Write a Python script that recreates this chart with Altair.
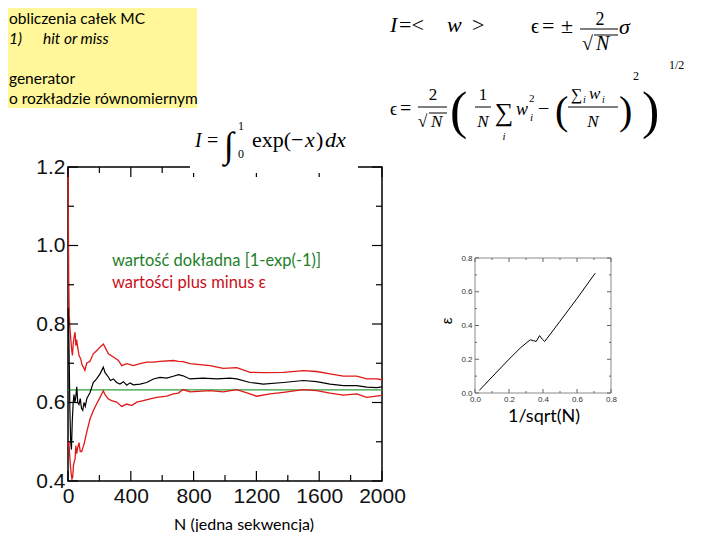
import altair as alt
import pandas as pd

# ---------------- data ----------------
black_N = [1, 4, 8, 12, 17, 22, 27, 33, 38, 44, 50, 56, 62, 70, 78, 86, 94, 102, 110, 120,
           140, 161, 182, 204, 225, 236, 257, 270, 289, 310, 331, 353, 374, 395, 416, 459, 501, 544, 586, 629,
           671, 703, 733, 777, 861, 947, 1032, 1075, 1159, 1244, 1372, 1499, 1584, 1669, 1754, 1839, 1903, 1966, 2000]
black_I = [0.84, 0.80, 0.70, 0.58, 0.50, 0.48, 0.55, 0.60, 0.62, 0.60, 0.615, 0.64, 0.60, 0.595, 0.61, 0.585, 0.58, 0.60, 0.59, 0.61,
           0.625, 0.651, 0.66, 0.673, 0.69, 0.676, 0.665, 0.656, 0.66, 0.651, 0.647, 0.653, 0.644, 0.65, 0.645, 0.647, 0.651, 0.66, 0.664, 0.662,
           0.667, 0.671, 0.668, 0.66, 0.662, 0.66, 0.662, 0.66, 0.651, 0.647, 0.651, 0.656, 0.653, 0.647, 0.643, 0.643, 0.639, 0.638, 0.64]

upper_N = [1, 2, 3, 5, 8, 12, 16, 22, 28, 34, 40, 45, 50, 55, 62, 70, 81, 90, 98, 108,
           119, 140, 161, 182, 204, 225, 236, 257, 289, 321, 342, 374, 416, 459, 501, 544, 586, 671, 703, 733,
           777, 904, 989, 1075, 1159, 1244, 1372, 1499, 1584, 1669, 1754, 1839, 1903, 1966, 2000]
upper_v = [1.19, 1.10, 1.00, 0.90, 0.82, 0.79, 0.77, 0.74, 0.72, 0.753, 0.77, 0.779, 0.745, 0.76, 0.74, 0.72, 0.711, 0.695, 0.69, 0.682,
           0.70, 0.705, 0.724, 0.732, 0.741, 0.749, 0.741, 0.724, 0.716, 0.707, 0.694, 0.699, 0.694, 0.699, 0.703, 0.703, 0.705, 0.707, 0.705, 0.704,
           0.699, 0.694, 0.687, 0.689, 0.677, 0.676, 0.677, 0.681, 0.679, 0.673, 0.667, 0.667, 0.66, 0.66, 0.658]

lower_N = [1, 3, 6, 10, 15, 20, 25, 30, 35, 40, 45, 50, 55, 62, 70, 78, 87, 95, 102, 119,
           140, 161, 182, 204, 225, 236, 257, 278, 310, 342, 374, 406, 438, 480, 523, 565, 629, 671, 703, 733,
           777, 904, 989, 1075, 1159, 1202, 1287, 1372, 1499, 1584, 1669, 1754, 1839, 1903, 2000]
lower_v = [0.49, 0.50, 0.50, 0.47, 0.44, 0.42, 0.405, 0.41, 0.44, 0.45, 0.456, 0.49, 0.47, 0.485, 0.498, 0.475, 0.475, 0.485, 0.494, 0.524,
           0.558, 0.579, 0.596, 0.613, 0.630, 0.62, 0.609, 0.605, 0.601, 0.590, 0.596, 0.592, 0.601, 0.605, 0.609, 0.613, 0.616, 0.622, 0.624, 0.633,
           0.627, 0.630, 0.627, 0.633, 0.622, 0.616, 0.622, 0.626, 0.633, 0.630, 0.624, 0.619, 0.622, 0.613, 0.618]

exact_N = [0, 2000]
exact_v = [0.632, 0.632]

x_ticks_major = [0, 400, 800, 1200, 1600, 2000]
x_ticks_minor = [200, 600, 1000, 1400, 1800]
y_ticks_major = [0.4, 0.6, 0.8, 1.0, 1.2]
y_ticks_minor = [0.5, 0.7, 0.9, 1.1]

inset_s = [0.025, 0.10, 0.20, 0.27, 0.30, 0.325, 0.345, 0.36, 0.38, 0.395, 0.41, 0.50, 0.60, 0.707]
inset_eps = [0.015, 0.095, 0.20, 0.27, 0.295, 0.315, 0.31, 0.305, 0.34, 0.32, 0.305, 0.425, 0.56, 0.71]
inset_major = [0.0, 0.2, 0.4, 0.6, 0.8]
inset_minor = [0.1, 0.3, 0.5, 0.7]

# ---------------- layout ----------------
OX, OY = 68, 167          # page position of the main plot's top-left corner
W, H = 314, 314
SANS = "Lato"
AXF = "Liberation Sans"
MATH = "Liberation Serif, DejaVu Serif"
RED = "#e01818"

SC_X = alt.Scale(domain=[0, 2000], nice=False, zero=False)
SC_Y = alt.Scale(domain=[0.4, 1.2], nice=False, zero=False)
AX_X = alt.Axis(values=x_ticks_major, format="d", ticks=False, domain=False, grid=False, title=None,
                labelFont=AXF, labelFontSize=21, labelColor="#111", labelPadding=4,
                labelFlush=False, labelOverlap=False)
AX_Y = alt.Axis(values=y_ticks_major, format=".1f", ticks=False, domain=False, grid=False, title=None,
                labelFont=AXF, labelFontSize=21, labelColor="#111", labelPadding=3,
                labelFlush=False, labelOverlap=False)


def X(f):
    return alt.X(f, scale=SC_X, axis=AX_X)


def Y(f):
    return alt.Y(f, scale=SC_Y, axis=AX_Y)


def series(n, v, color, w):
    df = pd.DataFrame({"N": n, "v": v})
    return alt.Chart(df).mark_line(color=color, strokeWidth=w).encode(x=X("N:Q"), y=Y("v:Q"))


main_layers = [
    series(exact_N, exact_v, "#2f9e3a", 1.3),
    series(upper_N, upper_v, RED, 1.3),
    series(lower_N, lower_v, RED, 1.3),
    series(black_N, black_I, "black", 1.2),
]

for vals, ln in ((x_ticks_major, 10), (x_ticks_minor, 6)):
    d = pd.DataFrame({"N": vals})
    main_layers.append(alt.Chart(d).mark_rule(color="black", strokeWidth=1.2).encode(
        x=X("N:Q"), y=alt.value(H), y2=alt.value(H - ln)))
    main_layers.append(alt.Chart(d).mark_rule(color="black", strokeWidth=1.2).encode(
        x=X("N:Q"), y=alt.value(0), y2=alt.value(ln)))
for vals, ln in ((y_ticks_major, 10), (y_ticks_minor, 6)):
    d = pd.DataFrame({"v": vals})
    main_layers.append(alt.Chart(d).mark_rule(color="black", strokeWidth=1.2).encode(
        y=Y("v:Q"), x=alt.value(0), x2=alt.value(ln)))
    main_layers.append(alt.Chart(d).mark_rule(color="black", strokeWidth=1.2).encode(
        y=Y("v:Q"), x=alt.value(W), x2=alt.value(W - ln)))

main = alt.layer(*main_layers)

# ---------------- inset ----------------
IX0, IX1 = 475 - OX, 611 - OX
IY0, IY1 = 393 - OY, 258 - OY
SC_IX = alt.Scale(domain=[0, 0.8], range=[IX0, IX1], nice=False, zero=False)
SC_IY = alt.Scale(domain=[0, 0.8], range=[IY0, IY1], nice=False, zero=False)
AX_IX = alt.Axis(orient="bottom", offset=-(H - IY0), values=inset_major, format=".1f", ticks=False,
                 domain=False, grid=False, title=None, labelFont=AXF, labelFontSize=8,
                 labelColor="#333", labelPadding=2, labelFlush=False, labelOverlap=False)
AX_IY = alt.Axis(orient="left", offset=-IX0, values=inset_major, format=".1f", ticks=False,
                 domain=False, grid=False, title=None, labelFont=AXF, labelFontSize=8,
                 labelColor="#333", labelPadding=3, labelFlush=False, labelOverlap=False)


def IXf(f):
    return alt.X(f, scale=SC_IX, axis=AX_IX)


def IYf(f):
    return alt.Y(f, scale=SC_IY, axis=AX_IY)


DUM = pd.DataFrame({"k": [0]})
inset_layers = [
    alt.Chart(DUM).mark_rect(filled=False, stroke="#8a8a8a", strokeWidth=1).encode(
        x=alt.XDatum(0, scale=SC_IX, axis=AX_IX), x2=alt.X2Datum(0.8),
        y=alt.YDatum(0, scale=SC_IY, axis=AX_IY), y2=alt.Y2Datum(0.8)),
    alt.Chart(pd.DataFrame({"s": inset_s, "e": inset_eps})).mark_line(color="black", strokeWidth=1).encode(
        x=IXf("s:Q"), y=IYf("e:Q")),
]
for vals, ln in ((inset_major, 4), (inset_minor, 2)):
    d = pd.DataFrame({"t": vals})
    inset_layers.append(alt.Chart(d).mark_rule(color="#666", strokeWidth=1).encode(
        x=IXf("t:Q"), y=alt.value(IY0), y2=alt.value(IY0 - ln)))
    inset_layers.append(alt.Chart(d).mark_rule(color="#666", strokeWidth=1).encode(
        x=IXf("t:Q"), y=alt.value(IY1), y2=alt.value(IY1 + ln)))
    inset_layers.append(alt.Chart(d).mark_rule(color="#666", strokeWidth=1).encode(
        y=IYf("t:Q"), x=alt.value(IX0), x2=alt.value(IX0 + ln)))
    inset_layers.append(alt.Chart(d).mark_rule(color="#666", strokeWidth=1).encode(
        y=IYf("t:Q"), x=alt.value(IX1), x2=alt.value(IX1 - ln)))
inset = alt.layer(*inset_layers)


# ---------------- annotations ----------------
def txt(s, px, py, size=15, font=SANS, color="black", style="normal", align="left", angle=0):
    return alt.Chart(DUM).mark_text(text=s, font=font, fontSize=size, color=color, fontStyle=style,
                                    align=align, baseline="alphabetic", angle=angle).encode(
        x=alt.value(px - OX), y=alt.value(py - OY))


def box(x1, y1, x2, y2, color):
    return alt.Chart(DUM).mark_rect(color=color).encode(
        x=alt.value(x1 - OX), x2=alt.value(x2 - OX), y=alt.value(y1 - OY), y2=alt.value(y2 - OY))


def bar(x1, x2, py, w=1.0):
    return alt.Chart(DUM).mark_rule(color="black", strokeWidth=w).encode(
        x=alt.value(x1 - OX), x2=alt.value(x2 - OX), y=alt.value(py - OY))


ann = [
    box(0, 0, 197, 108, "#fff799"),
    box(190, 118, 358, 173, "white"),
    # yellow note
    txt("obliczenia całek MC", 9, 24, 15.5),
    txt("1)", 9, 44, 15.5, style="italic"),
    txt("hit or miss", 43, 44, 15.5, style="italic"),
    txt("generator", 9, 84, 15.5),
    txt("o rozkładzie równomiernym", 9, 104, 15.5),
    # labels in the main plot
    txt("wartość dokładna [1-exp(-1)]", 112, 266, 16.5, color="#23802b"),
    txt("wartości plus minus ε", 112, 288, 16.5, color="#c8101c"),
    txt("N (jedna sekwencja)", 244, 530, 16, align="center"),
    # inset titles
    txt("ε", 452, 321, 15, font=AXF, align="center", angle=270),
    txt("1/sqrt(N)", 544, 422, 18, align="center"),
    # I = < w >
    txt("I", 390, 32, 22, font=MATH, style="italic"),
    txt("=<", 399, 32, 22, font=MATH),
    txt("w", 447, 32, 22, font=MATH, style="italic"),
    txt(">", 472, 32, 22, font=MATH),
    # eps = +- 2/sqrt(N) sigma
    txt("ϵ", 531, 33, 20, font=MATH),
    txt("=", 542, 33, 22, font=MATH),
    txt("±", 561, 33, 22, font=MATH),
    txt("2", 600, 25, 18, font=MATH, align="center"),
    bar(580, 618, 29),
    txt("√", 582, 50, 20, font=MATH),
    bar(594, 618, 35),
    txt("N", 596, 50, 20, font=MATH, style="italic"),
    txt("σ", 619, 34, 22, font=MATH, style="italic"),
    # second formula
    txt("ϵ", 390, 115, 18, font=MATH),
    txt("=", 400, 115, 20, font=MATH),
    txt("2", 433, 100, 17, font=MATH, align="center"),
    bar(418, 447, 107),
    txt("√", 418, 127, 17, font=MATH),
    bar(429, 447, 113),
    txt("N", 431, 127, 17, font=MATH, style="italic"),
    txt("(", 450, 128, 52, font=MATH),
    txt("1", 483, 100, 17, font=MATH, align="center"),
    bar(475, 491, 107),
    txt("N", 483, 127, 17, font=MATH, style="italic", align="center"),
    txt("∑", 504, 121, 26, font=MATH, align="center"),
    txt("i", 504, 140, 11, font=MATH, style="italic", align="center"),
    txt("w", 516, 115, 18, font=MATH, style="italic"),
    txt("2", 529, 102, 11, font=MATH),
    txt("i", 530, 121, 11, font=MATH, style="italic"),
    txt("−", 538, 115, 20, font=MATH),
    txt("(", 555, 124, 40, font=MATH),
    txt("∑", 571, 100, 16, font=MATH),
    txt("i", 583, 103, 10, font=MATH, style="italic"),
    txt("w", 589, 99, 17, font=MATH, style="italic"),
    txt("i", 602, 103, 10, font=MATH, style="italic"),
    bar(568, 618, 107),
    txt("N", 593, 127, 17, font=MATH, style="italic", align="center"),
    txt(")", 619, 124, 40, font=MATH),
    txt("2", 633, 80, 12, font=MATH),
    txt(")", 642, 128, 52, font=MATH),
    txt("1/2", 669, 69, 12, font=MATH),
    # integral
    txt("I", 195, 147, 20, font=MATH, style="italic"),
    txt("=", 207, 147, 20, font=MATH),
    txt("∫", 224, 157, 36, font=MATH),
    txt("1", 238, 130, 12, font=MATH),
    txt("0", 238, 158, 12, font=MATH),
    txt("exp(−", 252, 147, 22, font=MATH),
    txt("x", 305, 147, 22, font=MATH, style="italic"),
    txt(")", 316, 147, 22, font=MATH),
    txt("dx", 325, 147, 22, font=MATH, style="italic"),
]

chart = alt.layer(main, inset, *ann).resolve_scale(
    x="independent", y="independent"
).properties(
    width=W, height=H,
    padding={"left": OX - 8, "top": OY - 8, "right": 704 - (OX - 8) - W, "bottom": 524 - (OY - 8) - H},
    autosize=alt.AutoSizeParams(type="none"),
).configure_view(stroke="black", strokeWidth=1.5)

chart.save("out.html", embed_options={"renderer": "svg", "actions": False})
